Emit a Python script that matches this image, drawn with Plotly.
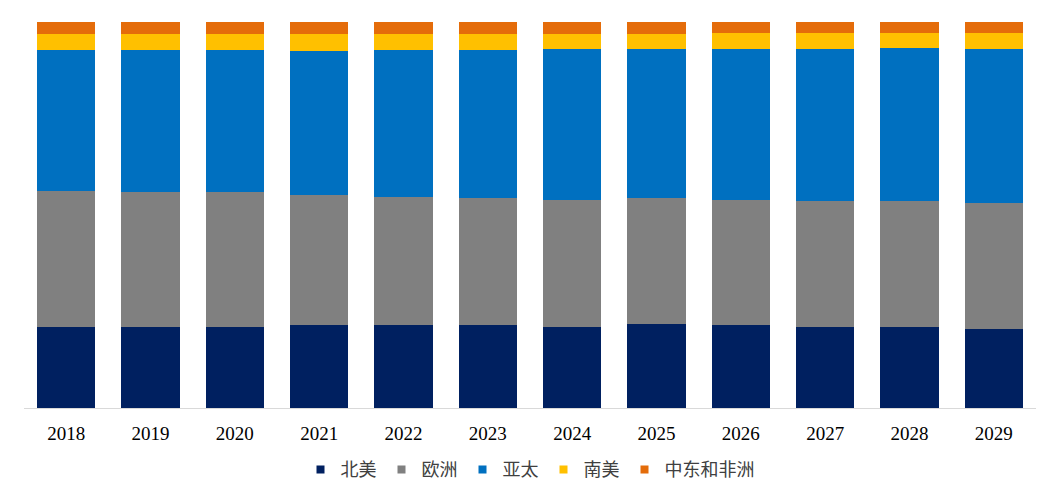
import plotly.graph_objects as go

years = ["2018", "2019", "2020", "2021", "2022", "2023", "2024", "2025", "2026", "2027", "2028", "2029"]
north_america = [21.0, 21.0, 21.1, 21.4, 21.4, 21.4, 21.1, 21.7, 21.4, 20.9, 20.9, 20.4]
europe = [35.3, 34.9, 34.9, 33.8, 33.2, 33.0, 32.8, 32.8, 32.5, 32.8, 32.6, 32.6]
asia_pacific = [36.5, 36.8, 36.8, 37.4, 38.1, 38.4, 39.0, 38.5, 39.1, 39.3, 39.7, 40.1]
south_america = [4.2, 4.2, 4.2, 4.3, 4.2, 4.2, 4.0, 4.0, 4.2, 4.2, 4.0, 4.0]
mea = [3.0, 3.1, 3.0, 3.1, 3.1, 3.0, 3.1, 3.0, 2.8, 2.8, 2.8, 2.9]

series = [
    ("北美", north_america, "#002060"),
    ("欧洲", europe, "#808080"),
    ("亚太", asia_pacific, "#0070C0"),
    ("南美", south_america, "#FFC000"),
    ("中东和非洲", mea, "#E46C0A"),
]

fig = go.Figure()
for name, vals, color in series:
    fig.add_trace(go.Bar(x=years, y=vals, name=name, marker=dict(color=color, line=dict(width=0)),
                         showlegend=False))
for name, vals, color in series:
    fig.add_trace(go.Scatter(x=[None], y=[None], mode="markers", name=name,
                             marker=dict(symbol="square", size=8, color=color)))

fig.update_layout(
    barmode="stack",
    barnorm="percent",
    bargap=0.31,
    width=1059, height=500,
    margin=dict(l=24, r=23, t=22, b=92),
    plot_bgcolor="white", paper_bgcolor="white",
    xaxis=dict(showline=True, linecolor="#D9D9D9", linewidth=1, ticks="",
               tickfont=dict(family="Liberation Serif", size=19, color="#000000"),
               ticklabelstandoff=8, showgrid=False),
    yaxis=dict(range=[0, 100], visible=False, showgrid=False),
    legend=dict(orientation="h", x=0.5, xanchor="center", y=-0.16, yanchor="middle",
                font=dict(family="Noto Sans CJK SC", size=18, color="#404040"),
                itemwidth=30, traceorder="normal"),
)

fig.write_html("out.html")
